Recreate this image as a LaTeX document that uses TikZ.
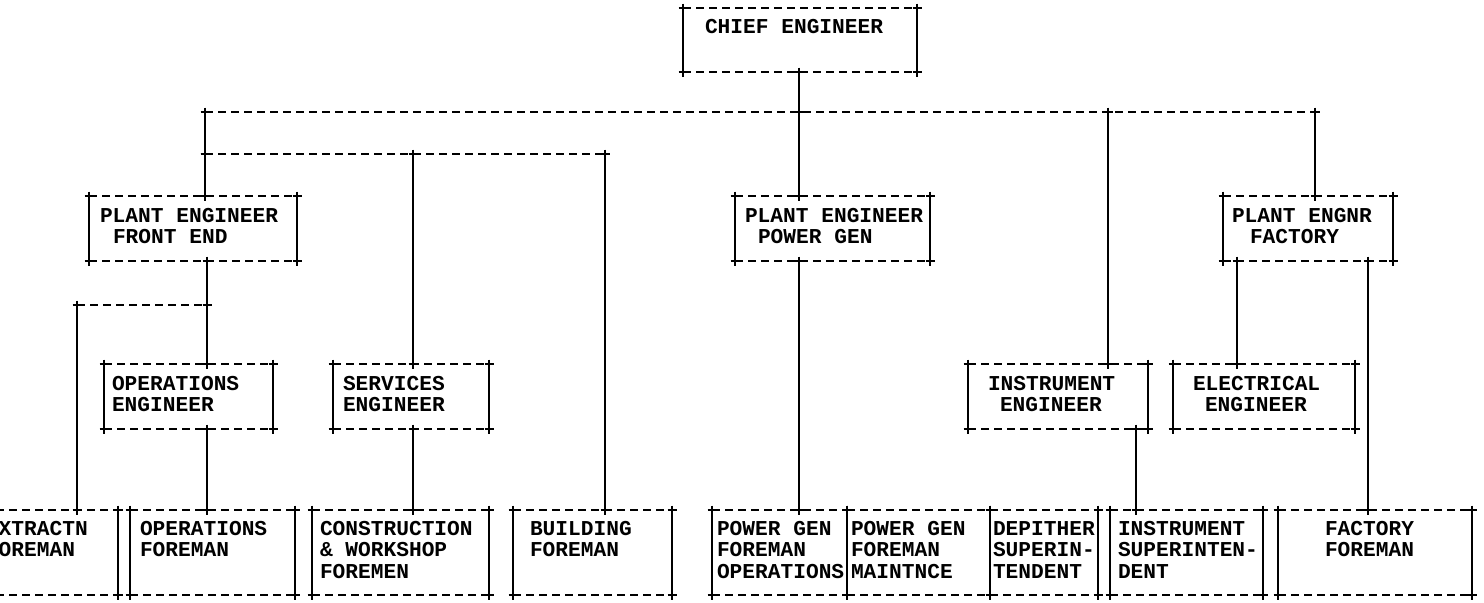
\documentclass[tikz,border=0pt]{standalone}
\usepackage{fontspec}
\setmonofont{Liberation Mono}
\usetikzlibrary{calc,fit}

\tikzset{
  x=0.5pt, y=-0.5pt,
  hline/.style={line width=1pt, dash pattern=on 4pt off 2.5pt},
  vline/.style={line width=1.2pt},
  box/.style={inner sep=0pt, outer sep=0pt},
  txt/.style={inner sep=0pt, outer sep=0pt, anchor=west, align=left,
    font=\ttfamily\bfseries\fontsize{10.6pt}{10.75pt}\selectfont},
  jn/.pic={\draw[line width=1.1pt, solid] (-4.5,0) -- (4.5,0) (0,-4.5) -- (0,4.5);}
}

% frame of a box: dashed top and bottom, solid sides, crosses at the corners
\newcommand{\frameit}[1]{%
  \draw[hline] (#1.north west) -- (#1.north east) (#1.south west) -- (#1.south east);
  \draw[vline] (#1.north west) -- (#1.south west) (#1.north east) -- (#1.south east);
  \foreach \c in {north west,north east,south west,south east}
    \pic at (#1.\c) {jn};
}
% solid connector with a cross at each end
\newcommand{\link}[2]{%
  \draw[vline] (#1) -- (#2);
  \pic at (#1) {jn};
  \pic at (#2) {jn};
}
% a box given by its left, right, top and bottom edges
\newcommand{\abox}[5]{\node[box, fit={(#2,#4) (#3,#5)}] (#1) {};}

\begin{document}
\begin{tikzpicture}
\useasboundingbox (0,0) rectangle (1484,602);

% ---- boxes ----
\abox{chief}{683}{917}{8}{72}
\abox{pefe}{89}{297}{196}{261}
\abox{pepg}{735}{930}{196}{261}
\abox{pef}{1223}{1393}{196}{261}
\abox{openg}{104}{273}{364}{429}
\abox{serveng}{333}{489}{364}{429}
\abox{insteng}{968}{1148}{364}{429}
\abox{eleng}{1173}{1355}{364}{429}
\abox{extr}{-30}{118}{510}{595}
\abox{opfm}{130}{295}{510}{595}
\abox{constr}{312}{489}{510}{595}
\abox{bldg}{513}{672}{510}{595}
\abox{pgfo}{712}{847}{510}{595}
\abox{pgfm}{847}{990}{510}{595}
\abox{depi}{990}{1098}{510}{595}
\abox{instsup}{1110}{1263}{510}{595}
\abox{fact}{1278}{1472}{510}{595}

\foreach \b in {chief,pefe,pepg,pef,openg,serveng,insteng,eleng,
                extr,opfm,constr,bldg,pgfo,pgfm,depi,instsup,fact}
  \frameit{\b};

% ---- texts ----
\node[txt] (chief-t)   at ($(chief.west)+(22,0)$)   {\strut CHIEF ENGINEER\\\strut};
\node[txt] (pefe-t)    at ($(pefe.west)+(11,0)$)    {\strut PLANT ENGINEER\\\strut\hspace*{6.5pt}FRONT END};
\node[txt] (pepg-t)    at ($(pepg.west)+(10,0)$)    {\strut PLANT ENGINEER\\\strut\hspace*{6.5pt}POWER GEN};
\node[txt] (pef-t)     at ($(pef.west)+(9,0)$)      {\strut PLANT ENGNR\\\strut\hspace*{9pt}FACTORY};
\node[txt] (openg-t)   at ($(openg.west)+(8,0)$)    {\strut OPERATIONS\\\strut ENGINEER};
\node[txt] (serveng-t) at ($(serveng.west)+(10,0)$) {\strut SERVICES\\\strut ENGINEER};
\node[txt] (insteng-t) at ($(insteng.west)+(20,0)$) {\strut INSTRUMENT\\\strut\hspace*{6pt}ENGINEER};
\node[txt] (eleng-t)   at ($(eleng.west)+(20,0)$)   {\strut ELECTRICAL\\\strut\hspace*{6pt}ENGINEER};
\node[txt] (extr-t)    at ($(extr.west)+(16,0)$)    {\strut EXTRACTN\\\strut FOREMAN\\\strut};
\node[txt] (opfm-t)    at ($(opfm.west)+(10,0)$)    {\strut OPERATIONS\\\strut FOREMAN\\\strut};
\node[txt] (constr-t)  at ($(constr.west)+(8,0)$)   {\strut CONSTRUCTION\\\strut\& WORKSHOP\\\strut FOREMEN};
\node[txt] (bldg-t)    at ($(bldg.west)+(17,0)$)    {\strut BUILDING\\\strut FOREMAN\\\strut};
\node[txt] (pgfo-t)    at ($(pgfo.west)+(5,0)$)     {\strut POWER GEN\\\strut FOREMAN\\\strut OPERATIONS};
\node[txt] (pgfm-t)    at ($(pgfm.west)+(4,0)$)     {\strut POWER GEN\\\strut FOREMAN\\\strut MAINTNCE};
\node[txt] (depi-t)    at ($(depi.west)+(3,0)$)     {\strut DEPITHER\\\strut SUPERIN-\\\strut TENDENT};
\node[txt] (instsup-t) at ($(instsup.west)+(8,0)$)  {\strut INSTRUMENT\\\strut SUPERINTEN-\\\strut DENT};
\node[txt] (fact-t)    at ($(fact.west)+(47,0)$)    {\strut FACTORY\\\strut FOREMAN\\\strut};

% ---- junctions of the bus lines and drop points ----
\coordinate (b1a) at (205,112);
\coordinate (b1c) at (799,112);
\coordinate (b1i) at (1108,112);
\coordinate (b1f) at (1315,112);
\coordinate (b2a) at (205,154);
\coordinate (b2s) at (413,154);
\coordinate (b2b) at (605,154);
\coordinate (b3l) at (77,305);
\coordinate (b3r) at (207,305);
\coordinate (idrop) at (1136,470);
\coordinate (edrop) at (1237,300);
\coordinate (fdrop) at (1368,400);

% ---- bus lines ----
\draw[hline] (b1a) -- (b1f);
\draw[hline] (b2a) -- (b2b);
\draw[hline] (b3l) -- (b3r);

% ---- connectors ----
\link{chief.south -| b1c}{b1c}
\link{b1a}{b2a}
\link{b2a}{pefe.north -| b2a}
\link{b2s}{serveng.north -| b2s}
\link{b2b}{bldg.north -| b2b}
\link{b1c}{pepg.north -| b1c}
\link{b1i}{insteng.north -| b1i}
\link{b1f}{pef.north -| b1f}
\link{pefe.south -| b3r}{b3r}
\link{b3r}{openg.north -| b3r}
\link{b3l}{extr.north -| b3l}
\link{openg.south -| b3r}{opfm.north -| b3r}
\link{serveng.south -| b2s}{constr.north -| b2s}
\link{pepg.south -| b1c}{pgfo.north -| b1c}
\link{insteng.south -| idrop}{instsup.north -| idrop}
\link{pef.south -| edrop}{eleng.north -| edrop}
\link{pef.south -| fdrop}{fact.north -| fdrop}

\end{tikzpicture}
\end{document}
